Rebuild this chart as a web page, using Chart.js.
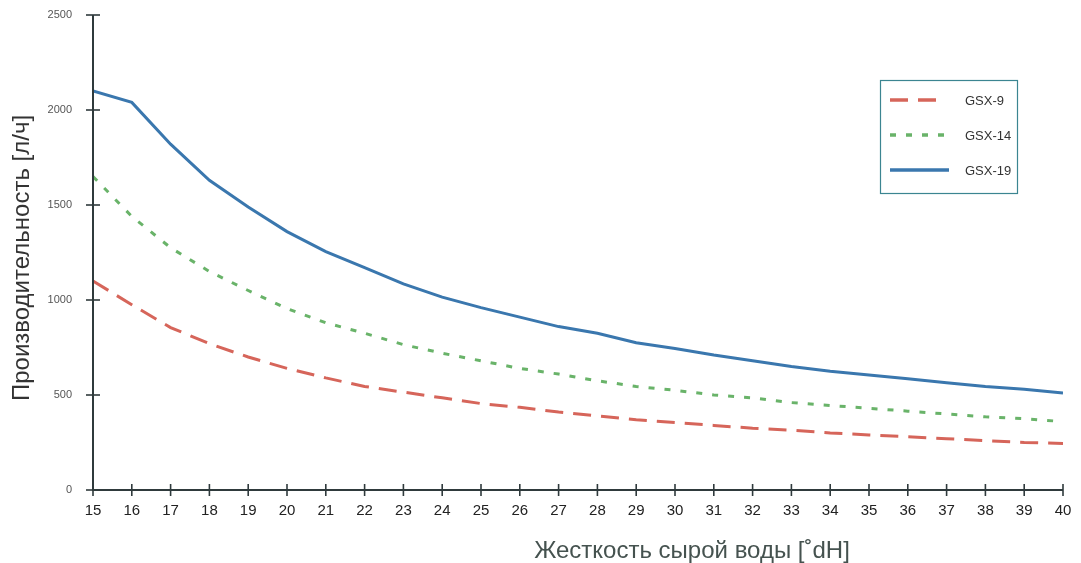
<!DOCTYPE html>
<html>
<head>
<meta charset="utf-8">
<script src="https://cdn.jsdelivr.net/npm/chart.js@4.4.1/dist/chart.umd.min.js"></script>
<style>
html,body{margin:0;padding:0;background:#fff;}
#wrap{width:1081px;height:563px;position:relative;}
</style>
</head>
<body>
<div id="wrap"><canvas id="c" width="1081" height="563"></canvas></div>
<script>
const hardness = [15,16,17,18,19,20,21,22,23,24,25,26,27,28,29,30,31,32,33,34,35,36,37,38,39,40];
const gsx9  = [1100,975,855,770,700,640,590,545,515,485,455,435,410,390,370,355,340,325,315,300,290,280,270,260,250,245];
const gsx14 = [1650,1440,1275,1150,1050,955,880,825,765,720,680,640,610,575,545,525,500,485,460,445,430,415,400,385,375,360];
const gsx19 = [2100,2040,1820,1630,1490,1360,1255,1170,1085,1015,960,910,860,825,775,745,710,680,650,625,605,585,565,545,530,510];
const yTicks = [0,500,1000,1500,2000,2500];
const seriesNames = ['GSX-9','GSX-14','GSX-19'];
const yTitle = 'Производительность [л/ч]';
const xTitle = 'Жесткость сырой воды [˚dH]';

const FONT = '"Liberation Sans", Arial, Helvetica, sans-serif';
const AXIS = '#2f3a3c';

function zeroPad(s) { s.paddingTop = 0; s.paddingBottom = 0; s.paddingLeft = 0; s.paddingRight = 0; }

const crossTicks = {
  id: 'crossTicks',
  afterDraw(chart) {
    const ctx = chart.ctx, x = chart.scales.x, y = chart.scales.y;
    ctx.save();
    ctx.strokeStyle = AXIS;
    ctx.lineWidth = 2;
    ctx.beginPath();
    ctx.moveTo(x.left, y.getPixelForValue(2500));
    ctx.lineTo(x.left, y.bottom);
    ctx.lineTo(x.right, y.bottom);
    ctx.stroke();
    ctx.lineWidth = 1.6;
    yTicks.forEach(v => {
      const py = y.getPixelForValue(v);
      ctx.beginPath(); ctx.moveTo(x.left - 7, py); ctx.lineTo(x.left + 7, py); ctx.stroke();
    });
    hardness.forEach(v => {
      const px = x.getPixelForValue(v);
      ctx.beginPath(); ctx.moveTo(px, y.bottom - 6); ctx.lineTo(px, y.bottom + 6); ctx.stroke();
    });
    ctx.fillStyle = '#45524f';
    ctx.font = '24px ' + FONT;
    ctx.textAlign = 'center';
    ctx.textBaseline = 'alphabetic';
    ctx.fillText(xTitle, 692, 558);
    ctx.translate(29, 258);
    ctx.rotate(-Math.PI / 2);
    ctx.fillStyle = '#333';
    ctx.font = '24px ' + FONT;
    ctx.fillText(yTitle, 0, 0);
    ctx.restore();

    ctx.save();
    ctx.strokeStyle = '#3b8591';
    ctx.lineWidth = 1.2;
    ctx.strokeRect(880.5, 80.5, 137, 113);
    const rows = [100, 135, 170];
    const lens = [50, 55, 59];
    chart.data.datasets.forEach((ds, i) => {
      ctx.strokeStyle = ds.borderColor;
      ctx.lineWidth = 3.5;
      ctx.setLineDash(ds.borderDash || []);
      ctx.beginPath();
      ctx.moveTo(890, rows[i]); ctx.lineTo(890 + lens[i], rows[i]);
      ctx.stroke();
      ctx.setLineDash([]);
      ctx.fillStyle = '#333';
      ctx.font = '13px ' + FONT;
      ctx.textAlign = 'left';
      ctx.textBaseline = 'middle';
      ctx.fillText(ds.label, 965, rows[i] + 1);
    });
    ctx.restore();
  }
};

new Chart(document.getElementById('c'), {
  type: 'line',
  data: {
    datasets: [
      { label: seriesNames[0], data: hardness.map((h,i)=>({x:h,y:gsx9[i]})), borderColor: '#d6655a', borderWidth: 3, borderDash: [18,10], pointRadius: 0, tension: 0, fill: false },
      { label: seriesNames[1], data: hardness.map((h,i)=>({x:h,y:gsx14[i]})), borderColor: '#69b369', borderWidth: 3, borderDash: [6,10], pointRadius: 0, tension: 0, fill: false },
      { label: seriesNames[2], data: hardness.map((h,i)=>({x:h,y:gsx19[i]})), borderColor: '#3a77ae', borderWidth: 3, pointRadius: 0, tension: 0, fill: false }
    ]
  },
  options: {
    responsive: false,
    animation: false,
    layout: { padding: { left: 0, top: 15, right: 18, bottom: 0 } },
    plugins: { legend: { display: false }, tooltip: { enabled: false } },
    scales: {
      x: {
        type: 'linear', min: 15, max: 40,
        afterBuildTicks: s => { s.ticks = hardness.map(v => ({value: v})); },
        afterFit: s => { s.height = 73; zeroPad(s); },
        grid: { display: false, drawTicks: false },
        border: { display: false },
        ticks: { color: '#222', font: { family: FONT, size: 15 }, padding: 12, maxRotation: 0, autoSkip: false }
      },
      y: {
        min: 0, max: 2500,
        afterBuildTicks: s => { s.ticks = yTicks.map(v => ({value: v})); },
        afterFit: s => { s.width = 93; zeroPad(s); },
        grid: { display: false, drawTicks: false },
        border: { display: false },
        ticks: { color: '#555', font: { family: FONT, size: 11 }, padding: 21, callback: v => String(v) }
      }
    }
  },
  plugins: [crossTicks]
});
</script>
</body>
</html>
